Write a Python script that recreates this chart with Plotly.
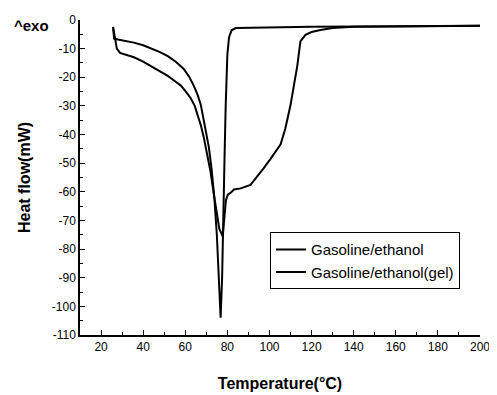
import plotly.graph_objects as go

# Gasoline/ethanol (sharp endotherm)
t_liquid = [25.7, 26.2, 28, 31, 35.6, 40, 43.7, 48, 51.7, 55.5, 59.3, 62, 64, 65.8, 67.4, 68.6,
            69.7, 71.2, 72.5, 73.8, 75, 76, 76.8, 77.5, 78.2, 78.6, 79.2, 80, 80.8, 82, 84,
            90, 100, 120, 140, 160, 180, 200]
hf_liquid = [-2.4, -6.5, -6.8, -7.2, -7.9, -8.8, -9.9, -11.2, -12.6, -14.6, -17.1, -20, -22.9, -26,
             -29.7, -34, -38.9, -44.4, -52, -62, -75, -90, -104, -90, -70, -50, -30, -12, -6, -3.6,
             -2.8, -2.7, -2.6, -2.4, -2.3, -2.2, -2.1, -2.0]

# Gasoline/ethanol (gel)
t_gel = [25.7, 26.3, 27.5, 29, 32, 35.6, 40, 43.7, 48, 51.7, 55, 57.9, 60.3, 62.6, 64.5, 65.9,
         67.5, 68.8, 70.5, 72, 73.5, 75, 76.2, 77.8, 78.6, 79.3, 80.2, 81.6, 83.1, 86.3, 91,
         93.4, 97, 100.5, 103, 105.3, 107.5, 110, 111.8, 113.2, 114.7, 117.1, 120, 124.2, 130,
         135, 140, 160, 180, 200]
hf_gel = [-2.4, -5, -10, -11.5, -12.3, -13, -14.5, -16, -18, -19.5, -21.3, -22.9, -25, -27.3, -30,
          -33, -37, -41, -47, -53, -60.5, -68, -73, -75.5, -68, -63, -61, -60.3, -59.2, -58.8,
          -57.6, -55.5, -52, -48.5, -46, -43.4, -38, -29.7, -22, -16.1, -7.5, -5.2, -4.2, -3.5,
          -2.8, -2.5, -2.4, -2.3, -2.1, -2.0]

x_ticks = [20, 40, 60, 80, 100, 120, 140, 160, 180, 200]
y_ticks = [0, -10, -20, -30, -40, -50, -60, -70, -80, -90, -100, -110]
y_ticklabels = ["0", "-10", "-20", "-30", "-40", "-50", "-60", "-70", "-80", "-90", "-100", "-110"]

font_family = "Liberation Sans, Arial, sans-serif"

fig = go.Figure()
fig.add_trace(go.Scatter(x=t_liquid, y=hf_liquid, mode="lines", name="Gasoline/ethanol",
                         line=dict(color="black", width=2)))
fig.add_trace(go.Scatter(x=t_gel, y=hf_gel, mode="lines", name="Gasoline/ethanol(gel)",
                         line=dict(color="black", width=2)))

axis_common = dict(
    showline=True, linecolor="black", linewidth=1.5, mirror=False,
    showgrid=False, zeroline=False, ticks="inside", ticklen=5, tickwidth=1.2,
    tickcolor="black", tickfont=dict(family=font_family, size=12, color="black"),
    ticklabeloverflow="allow",
)

fig.update_xaxes(range=[10, 200], tickvals=x_ticks,
                 minor=dict(dtick=10, tick0=10, ticks="inside", ticklen=3, tickcolor="black"),
                 title=dict(text="<b>Temperature(°C)</b>", standoff=25,
                            font=dict(family=font_family, size=16, color="black")),
                 **axis_common)
fig.update_yaxes(range=[-110, 0], tickvals=y_ticks, ticktext=y_ticklabels,
                 minor=dict(dtick=5, tick0=0, ticks="inside", ticklen=3, tickcolor="black"),
                 title=dict(text="<b>Heat flow(mW)</b>", standoff=17,
                            font=dict(family=font_family, size=16, color="black")),
                 **axis_common)

fig.add_annotation(text="<b>^exo</b>", xref="paper", yref="paper", x=-0.17, y=0.984,
                   xanchor="left", yanchor="middle", showarrow=False,
                   font=dict(family=font_family, size=15, color="black"))

fig.update_layout(
    width=497, height=395,
    margin=dict(l=72, r=25, t=5, b=68),
    plot_bgcolor="white", paper_bgcolor="white",
    showlegend=True,
    legend=dict(x=0.475, y=0.326, xanchor="left", yanchor="top",
                bgcolor="white", bordercolor="black", borderwidth=1,
                font=dict(family=font_family, size=15, color="black"),
                itemwidth=30, tracegroupgap=0),
)

fig.write_html("out.html")
